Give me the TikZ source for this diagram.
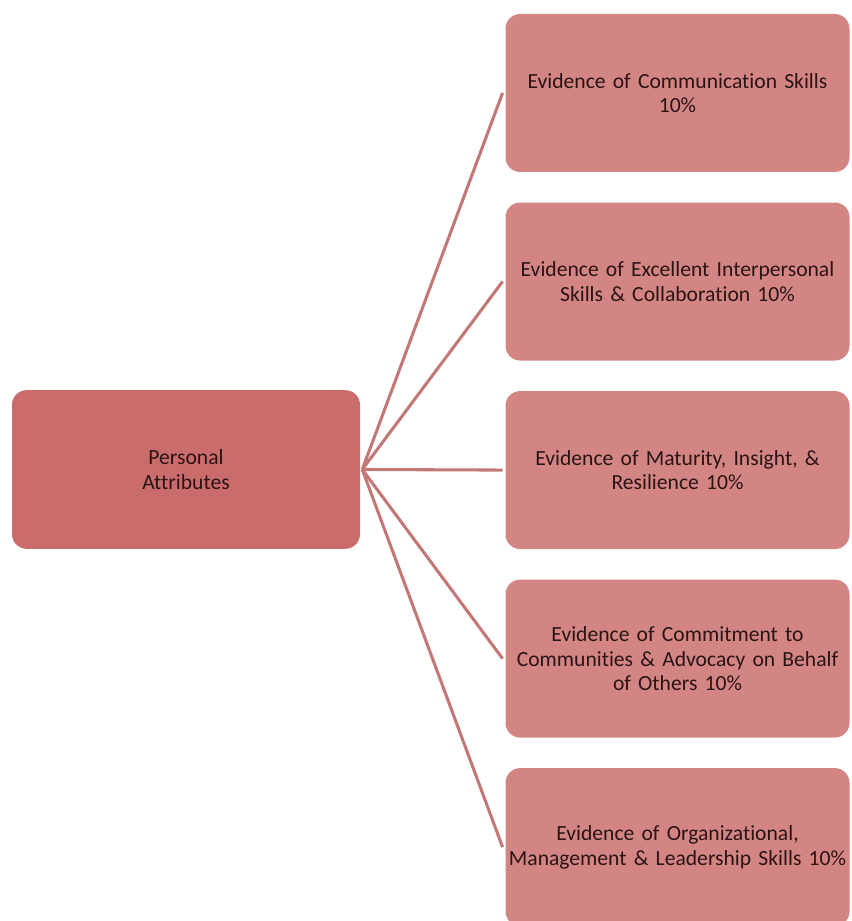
\documentclass[tikz,border=0pt]{standalone}
\usepackage{fontspec}
\setmainfont{Carlito}[Ligatures={NoCommon}]
\usetikzlibrary{positioning}

\definecolor{rootfill}{HTML}{C96C6B}
\definecolor{leaffill}{HTML}{D38584}
\definecolor{linkcol}{HTML}{C27876}
\definecolor{txtcol}{HTML}{2A1414}

\tikzset{
  box/.style={rounded corners=11pt, minimum width=258pt, minimum height=118.5pt,
    align=center, text=txtcol, font=\fontsize{16.2}{18.5}\selectfont, inner sep=2pt},
  rootbox/.style={box, fill=rootfill, minimum width=261pt, minimum height=119pt, text width=240pt},
  leafbox/.style={box, fill=leaffill, text width=254pt},
  link/.style={draw=linkcol, line width=2.3pt}
}

\begin{document}
\begin{tikzpicture}[x=0.75pt, y=0.75pt]
\useasboundingbox (0,0) rectangle (851,921);
\clip (0,0) rectangle (851,921);

\node[rootbox] (PA) at (186, 451.5) {Personal\\Attributes};

\node[leafbox] (C1) at (677.5, 828) {Evidence of Communication Skills\\10\%};
\node[leafbox, below=22.5pt of C1] (C2) {Evidence of Excellent Interpersonal\\Skills \& Collaboration 10\%};
\node[leafbox, below=22.5pt of C2] (C3) {Evidence of Maturity, Insight, \&\\Resilience 10\%};
\node[leafbox, below=22.5pt of C3] (C4) {Evidence of Commitment to\\Communities \& Advocacy on Behalf\\of Others 10\%};
\node[leafbox, below=22.5pt of C4] (C5) {Evidence of Organizational,\\Management \& Leadership Skills 10\%};

\foreach \c in {C1,C2,C3,C4,C5}
  \draw[link] ([xshift=1.5pt]PA.east) -- ([xshift=-2pt]\c.west);

\end{tikzpicture}
\end{document}
